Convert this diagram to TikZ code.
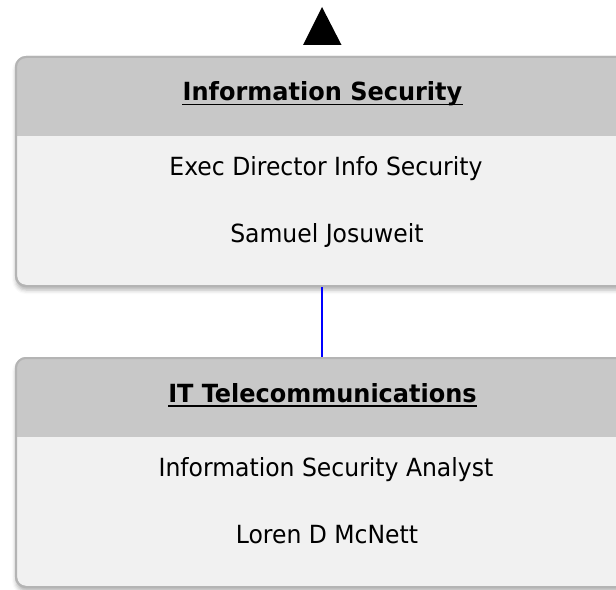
\documentclass[tikz,border=0pt]{standalone}
\usepackage{fontspec}
\setmainfont{DejaVu Sans Condensed}
\newfontfamily\bodyf{DejaVu Sans Condensed}[FakeStretch=1.045]
\newfontfamily\titlef{DejaVu Sans Condensed}[FakeStretch=1.067]
\usetikzlibrary{shadows.blur}
\definecolor{hdr}{HTML}{C8C8C8}
\definecolor{bodyc}{HTML}{F1F1F1}
\definecolor{bord}{HTML}{B4B4B4}
\definecolor{conn}{HTML}{0000FF}
\tikzset{
  card/.style={rectangle, rounded corners=10bp, draw=bord, line width=2bp, fill=bodyc,
    minimum width=613bp, minimum height=229bp, inner sep=0pt,
    blur shadow={shadow xshift=0bp, shadow yshift=-4bp, shadow opacity=30, shadow blur radius=4bp}},
  titletext/.style={inner sep=0pt, anchor=base, font=\titlef\fontsize{25bp}{29bp}\selectfont\bfseries},
  bodytext/.style={inner sep=0pt, anchor=base, font=\bodyf\fontsize{25bp}{29bp}\selectfont},
  uline/.style={line width=1.6bp, black},
  link/.style={draw=conn, line width=1.6bp},
}
\begin{document}
\begin{tikzpicture}[x=1bp, y=-1bp]
\useasboundingbox (0,0) rectangle (616,590);
% top arrow head
\fill[black] (322,7) coordinate (apex) -- (341.5,45) -- (303,45) -- cycle;
% box 1
\node[card] (b1) at (322.5,171.5) {};
\begin{scope}
\clip[rounded corners=10bp] (16,57) rectangle (629,286);
\fill[hdr] (16,57) rectangle (629,136);
\end{scope}
\draw[bord, line width=2bp, rounded corners=10bp] (16,57) rectangle (629,286);
\node[titletext] (t1) at (322.5,101) {Information Security};
\draw[uline] ([yshift=-3.5bp]t1.base west) -- ([yshift=-3.5bp]t1.base east);
\node[bodytext] (p1) at (326,175.7) {Exec Director Info Security};
\node[bodytext] (n1) at (327,242.7) {Samuel Josuweit};
% box 2
\node[card] (b2) at (322.5,472.5) {};
\begin{scope}
\clip[rounded corners=10bp] (16,358) rectangle (629,587);
\fill[hdr] (16,358) rectangle (629,436.5);
\end{scope}
\draw[bord, line width=2bp, rounded corners=10bp] (16,358) rectangle (629,587);
\node[titletext] (t2) at (322.5,402.7) {IT Telecommunications};
\draw[uline] ([yshift=-3.5bp]t2.base west) -- ([yshift=-3.5bp]t2.base east);
\node[bodytext] (p2) at (326,476) {Information Security Analyst};
\node[bodytext] (n2) at (327,543.3) {Loren D McNett};
% connector
\draw[link] ([xshift=-0.5bp]b1.south) -- ([xshift=-0.5bp]b2.north);
\end{tikzpicture}
\end{document}
